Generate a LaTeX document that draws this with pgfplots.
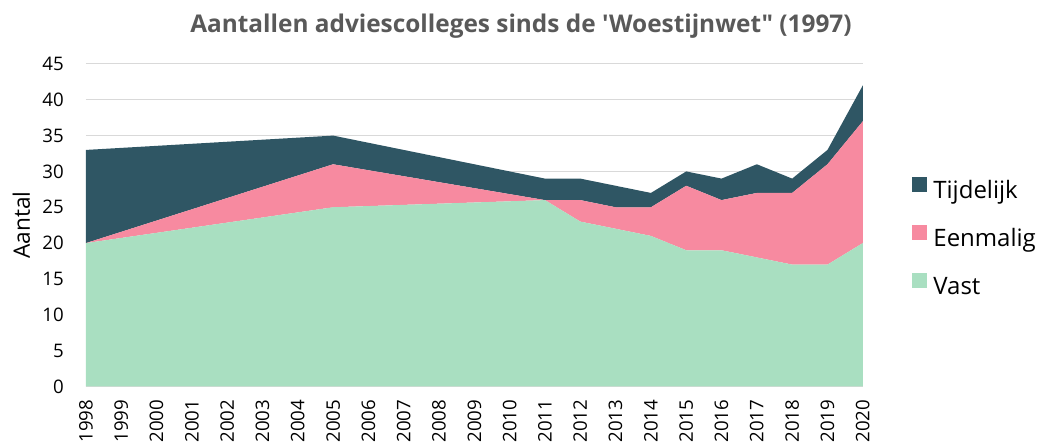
\documentclass[border=0pt]{standalone}
\usepackage{pgfplots}
\pgfplotsset{compat=1.18}
\usepackage{fontspec}
\setmainfont{Open Sans}
\newfontfamily\titlefont{Open Sans}[Ligatures=TeXOff]
\definecolor{tij}{HTML}{2F5664}
\definecolor{een}{HTML}{F78AA0}
\definecolor{vast}{HTML}{A9DFC1}
\definecolor{gridc}{HTML}{D9D9D9}
\definecolor{titc}{HTML}{595959}
\begin{document}
\begin{tikzpicture}
\begin{axis}[
  name=ax,
  scale only axis, width=583pt, height=242pt,
  xmin=1998, xmax=2020, ymin=0, ymax=45,
  ytick={0,5,...,45}, xtick={1998,...,2020},
  stack plots=y,
  axis x line*=bottom, axis y line*=left,
  y axis line style={draw=none}, x axis line style={gridc, line width=0.8pt},
  major tick length=0,
  ymajorgrids, grid style={gridc, line width=0.8pt},
  xticklabel style={rotate=90, anchor=east, inner sep=0pt, font=\fontsize{14}{16}\selectfont, text=black},
  xticklabel shift=10pt,
  yticklabel style={font=\fontsize{14}{16}\selectfont, text=black, inner sep=0pt, xshift=-16.5pt},
  /pgf/number format/1000 sep={},
  /pgf/number format/assume math mode=true,
  ylabel={Aantal},
  every axis y label/.style={at={(rel axis cs:0,0.5)}, rotate=90, anchor=center, yshift=48.5pt,
     font=\fontsize{17}{20}\selectfont},
  title={Aantallen adviescolleges sinds de 'Woestijnwet" (1997)},
  every axis title/.style={at={(0.5,1)}, anchor=base, xshift=35pt, yshift=23.25pt,
     font=\titlefont\bfseries\fontsize{18.3}{22}\selectfont, text=titc},
  legend style={at={(1,0.5)}, anchor=west, xshift=36.75pt, yshift=-10.4pt, draw=none, fill=none,
    inner sep=0pt, outer sep=0pt,
    nodes={inner sep=0pt, text height=13pt, text depth=5pt},
    font=\fontsize{18}{21}\selectfont, row sep=15pt,
    /tikz/every odd column/.append style={column sep=5pt}},
  legend cell align=left,
  reverse legend,
  legend image code/.code={\fill[#1,draw=none] (0pt,0.8pt) rectangle (11.25pt,12pt);},
]
\addplot[fill=vast, draw=none] coordinates {
(1998,20) (2005,25) (2011,26) (2012,23) (2013,22) (2014,21) (2015,19) (2016,19) (2017,18) (2018,17) (2019,17) (2020,20)} \closedcycle;
\addlegendentry{Vast}
\addplot[fill=een, draw=none] coordinates {
(1998,0) (2005,6) (2011,0) (2012,3) (2013,3) (2014,4) (2015,9) (2016,7) (2017,9) (2018,10) (2019,14) (2020,17)} \closedcycle;
\addlegendentry{Eenmalig}
\addplot[fill=tij, draw=none] coordinates {
(1998,13) (2005,4) (2011,3) (2012,3) (2013,3) (2014,2) (2015,2) (2016,3) (2017,4) (2018,2) (2019,2) (2020,5)} \closedcycle;
\addlegendentry{Tijdelijk}
\end{axis}
\pgfresetboundingbox
\useasboundingbox ([xshift=-64.5pt, yshift=-44.5pt]ax.south west) rectangle ([xshift=133pt, yshift=48pt]ax.north east);
\end{tikzpicture}
\end{document}
